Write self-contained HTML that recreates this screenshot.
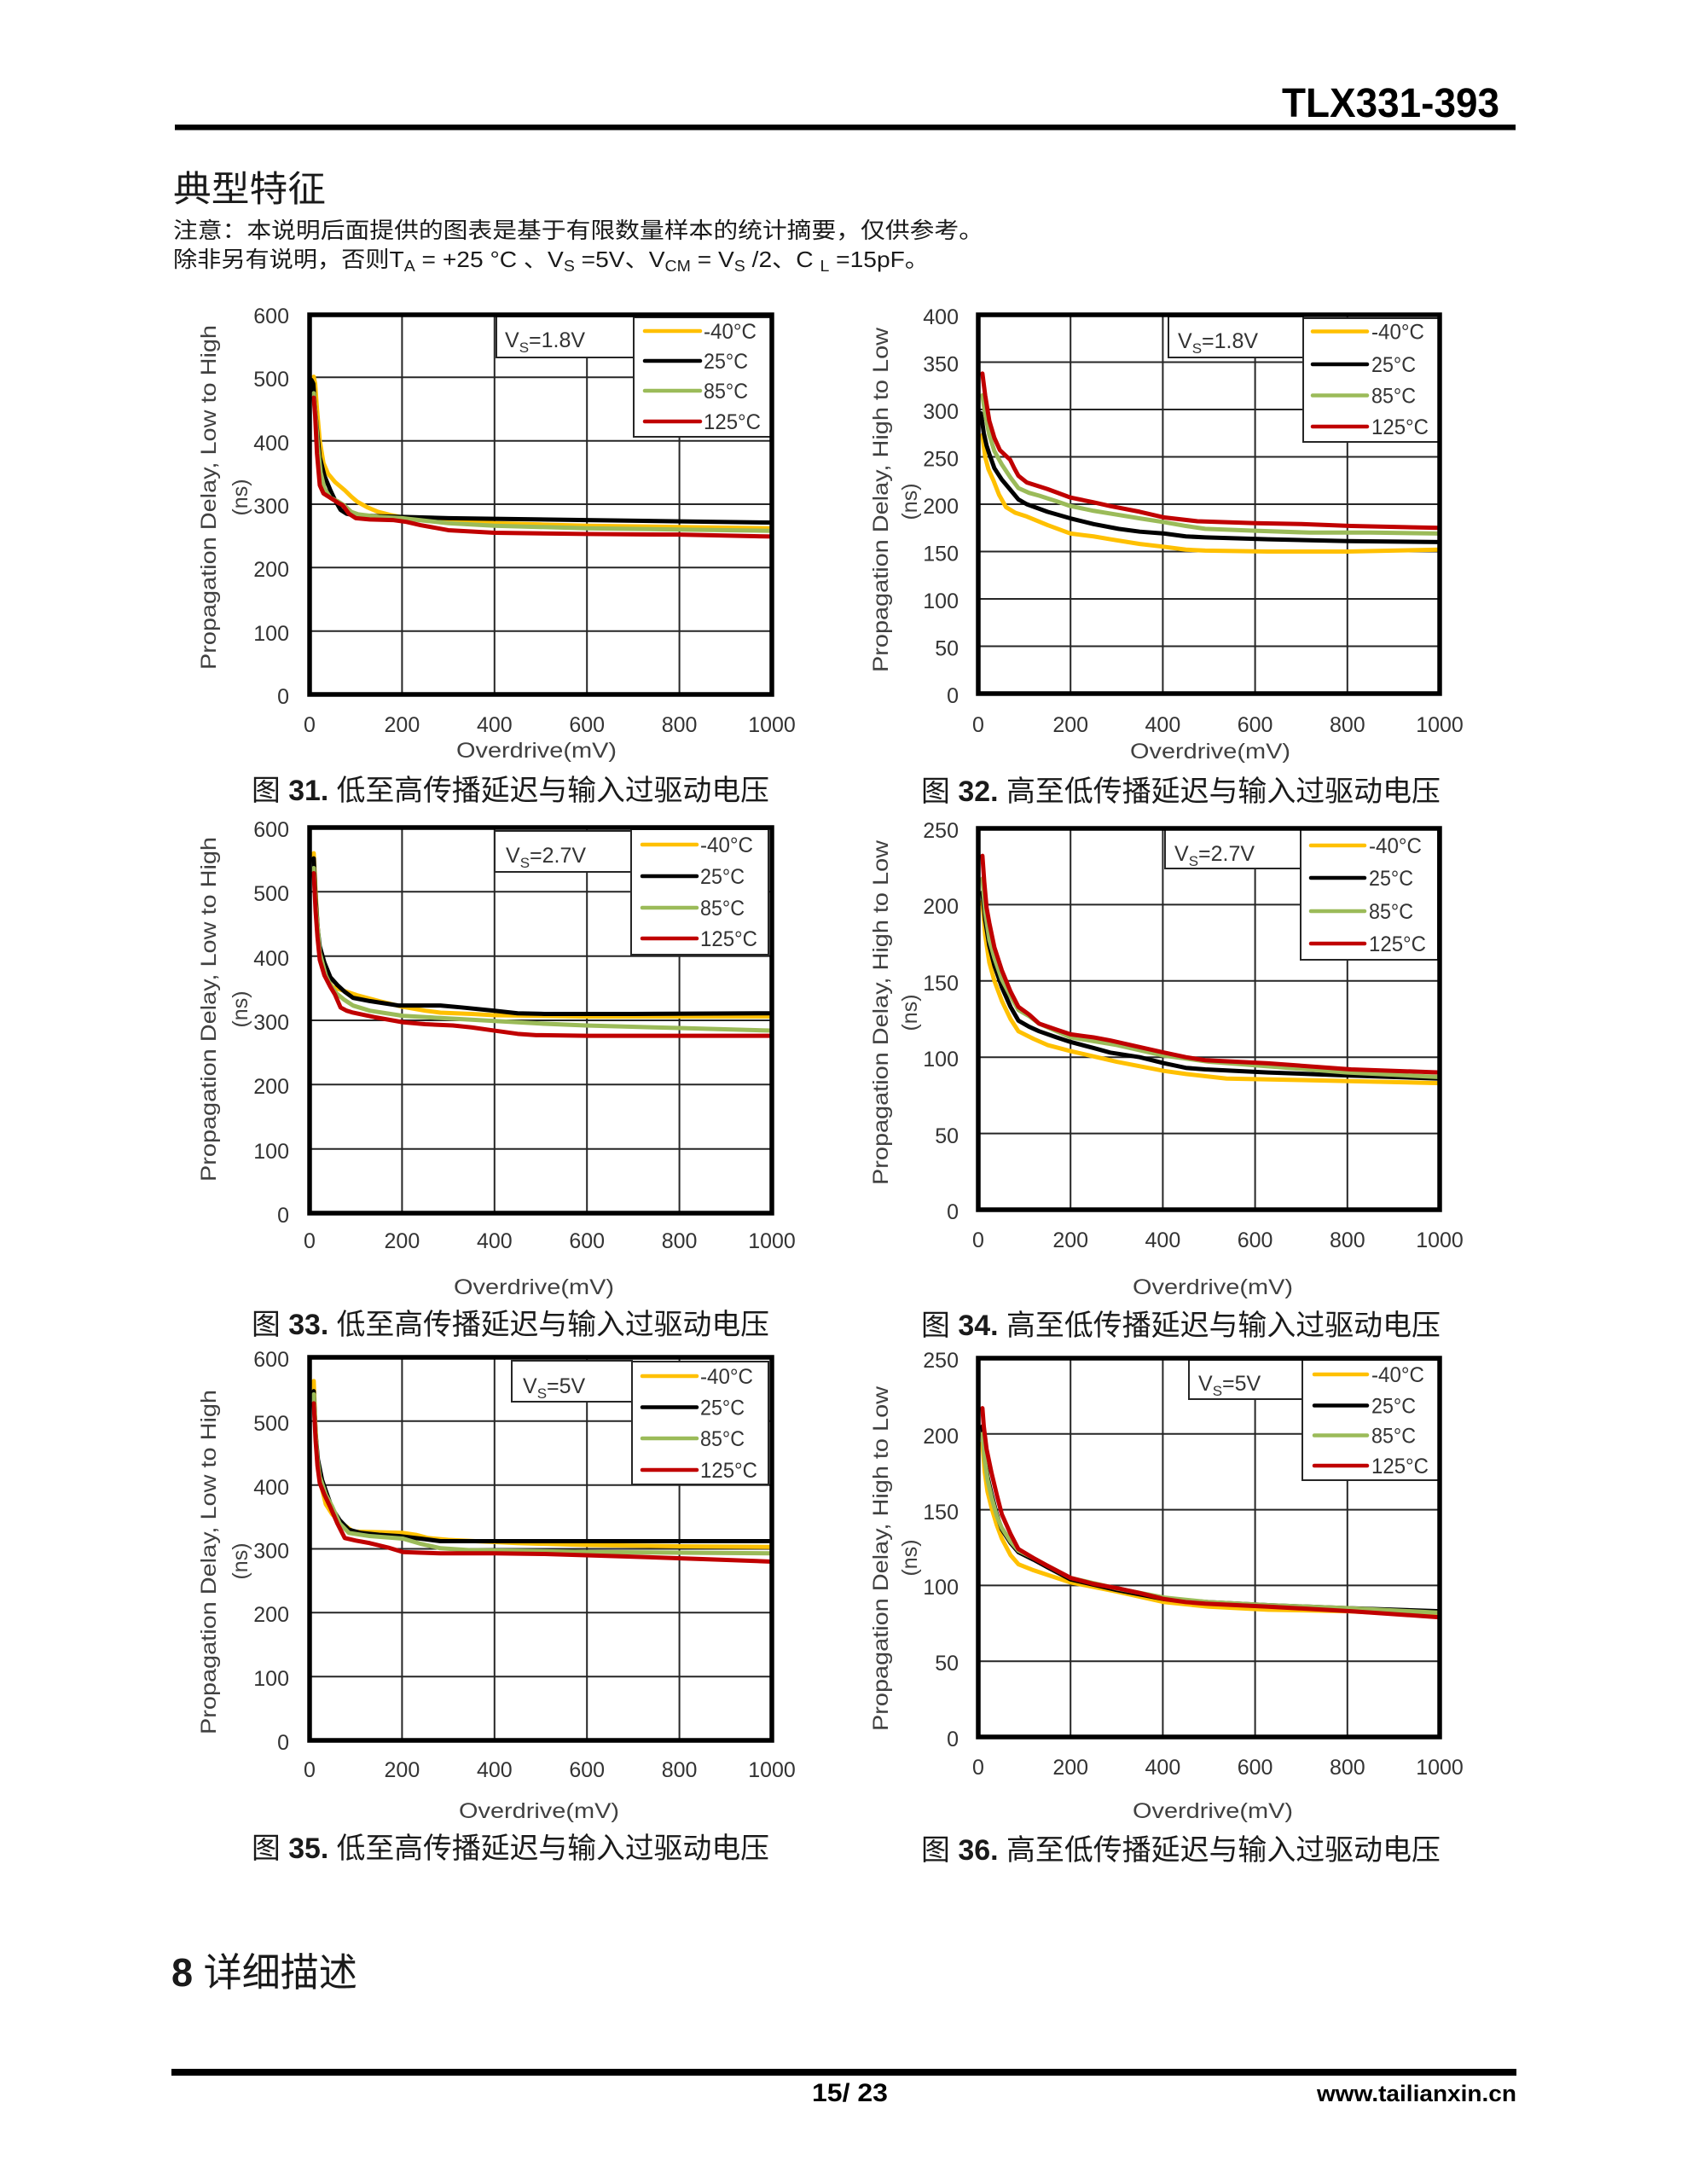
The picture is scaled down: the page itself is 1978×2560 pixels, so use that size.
<!DOCTYPE html>
<html><head><meta charset="utf-8"><style>
html,body{margin:0;padding:0;background:#fff}
svg{display:block}
</style></head><body>
<svg width="1978" height="2560" viewBox="0 0 1978 2560" xmlns="http://www.w3.org/2000/svg">
<style>
.g{stroke:#262626;stroke-width:2;fill:none}
.fr{stroke:#000;stroke-width:5.5;fill:none}
.bx{fill:#fff;stroke:#262626;stroke-width:2}
.t{font-family:"Liberation Sans","DejaVu Sans",sans-serif;font-size:25px;fill:#333}
.ti{font-family:"Liberation Sans","DejaVu Sans",sans-serif;font-size:25px;fill:#404040}
.cj{font-family:"Liberation Sans","Noto Sans CJK SC",sans-serif;fill:#1a1a1a}
.c{fill:none;stroke-width:5;stroke-linejoin:round;stroke-linecap:round;vector-effect:non-scaling-stroke}
.ll{stroke-width:4.5;stroke-linecap:round}
.y{stroke:#FFC000}.k{stroke:#000}.gr{stroke:#9BBB59}.r{stroke:#C00000}
</style>
<rect width="1978" height="2560" fill="#fff"/>

<!-- Header -->
<text x="1503" y="137" font-family="Liberation Sans, sans-serif" font-weight="bold" font-size="48" textLength="255" lengthAdjust="spacingAndGlyphs" fill="#000">TLX331-393</text>
<rect x="205" y="146" width="1572" height="6.5" fill="#000"/>
<text class="cj" x="203" y="236" font-size="42" textLength="179" lengthAdjust="spacingAndGlyphs">典型特征</text>
<text class="cj" x="203" y="279" font-size="26" textLength="950" lengthAdjust="spacingAndGlyphs">注意：本说明后面提供的图表是基于有限数量样本的统计摘要，仅供参考。</text>
<text class="cj" x="203" y="313" font-size="26" textLength="886" lengthAdjust="spacingAndGlyphs">除非另有说明，否则T<tspan font-size="18" dy="5">A</tspan><tspan dy="-5"> = +25 °C 、V</tspan><tspan font-size="18" dy="5">S</tspan><tspan dy="-5"> =5V、V</tspan><tspan font-size="18" dy="5">CM</tspan><tspan dy="-5"> = V</tspan><tspan font-size="18" dy="5">S</tspan><tspan dy="-5"> /2、C </tspan><tspan font-size="18" dy="5">L</tspan><tspan dy="-5"> =15pF。</tspan></text>

<!-- ================= Chart 31 ================= -->
<path class="g" d="M471.4 369V814M579.8 369V814M688.2 369V814M796.6 369V814M363 739.7H905M363 665.3H905M363 591H905M363 516.7H905M363 442.3H905"/>
<rect class="bx" x="582" y="371" width="161" height="48"/>
<rect class="bx" x="743" y="372" width="162" height="140"/>
<text class="t" x="592" y="407">V<tspan font-size="17" dy="6">S</tspan><tspan dy="-6">=1.8V</tspan></text>
<line class="ll y" x1="756" y1="388" x2="821" y2="388"/>
<line class="ll k" x1="756" y1="423" x2="821" y2="423"/>
<line class="ll gr" x1="756" y1="458" x2="821" y2="458"/>
<line class="ll r" x1="756" y1="494" x2="821" y2="494"/>
<text class="t" x="825" y="397" textLength="62" lengthAdjust="spacingAndGlyphs">-40°C</text>
<text class="t" x="825" y="432" textLength="52" lengthAdjust="spacingAndGlyphs">25°C</text>
<text class="t" x="825" y="467" textLength="52" lengthAdjust="spacingAndGlyphs">85°C</text>
<text class="t" x="825" y="503" textLength="67" lengthAdjust="spacingAndGlyphs">125°C</text>
<g transform="translate(363,814) scale(0.542,-0.74333)">
<polyline class="c y" points="9,501 12,490 16,450 22,400 30,365 40,348 55,335 76,322 90,312 103,304 125,295 148,288 175,283 202,279 250,276 300,273 400,270 500,268 600,266 800,264 1000,262"/>
<polyline class="c k" points="4,496 8,490 12,450 17,410 22,374 32,345 45,322 56,305 67,291 80,285 94,283 150,281 200,280 300,278 400,277 600,275 800,273 1000,271"/>
<polyline class="c gr" points="9,475 13,440 18,390 24,350 32,325 45,310 60,305 75,298 90,288 105,284 150,280 200,278 250,274 300,270 400,266 600,262 800,260 1000,258"/>
<polyline class="c r" points="9,468 12,440 16,380 22,330 30,317 45,310 62,302 72,298 85,285 100,278 130,276 180,275 210,272 240,267 300,259 400,255 600,253 800,252 1000,249"/>
</g>
<rect class="fr" x="363" y="369" width="542" height="445"/>
<g class="t" text-anchor="end">
<text x="339" y="379">600</text><text x="339" y="453">500</text><text x="339" y="528">400</text><text x="339" y="602">300</text><text x="339" y="676">200</text><text x="339" y="751">100</text><text x="339" y="825">0</text>
</g>
<g class="t" text-anchor="middle">
<text x="363" y="858">0</text><text x="471.4" y="858">200</text><text x="579.8" y="858">400</text><text x="688.2" y="858">600</text><text x="796.6" y="858">800</text><text x="905" y="858">1000</text>
</g>
<text class="ti" x="629" y="888" text-anchor="middle" font-size="27" textLength="188" lengthAdjust="spacingAndGlyphs">Overdrive(mV)</text>
<text class="ti" transform="translate(253,583) rotate(-90)" text-anchor="middle" textLength="404" lengthAdjust="spacingAndGlyphs">Propagation Delay, Low to High</text>
<text class="ti" transform="translate(290,583) rotate(-90)" text-anchor="middle">(ns)</text>
<text class="cj" x="295" y="938" font-size="34" textLength="607" lengthAdjust="spacingAndGlyphs">图 <tspan font-weight="bold">31.</tspan> 低至高传播延迟与输入过驱动电压</text>

<!-- ================= Chart 32 ================= -->
<path class="g" d="M1255.2 369V813M1363.4 369V813M1471.6 369V813M1579.8 369V813M1147 757.5H1688M1147 702H1688M1147 646.5H1688M1147 591H1688M1147 535.5H1688M1147 480H1688M1147 424.5H1688"/>
<rect class="bx" x="1370" y="371" width="158" height="48"/>
<rect class="bx" x="1528" y="373" width="160" height="145"/>
<text class="t" x="1381" y="408">V<tspan font-size="17" dy="6">S</tspan><tspan dy="-6">=1.8V</tspan></text>
<line class="ll y" x1="1539" y1="388.5" x2="1603" y2="388.5"/>
<line class="ll k" x1="1539" y1="427" x2="1603" y2="427"/>
<line class="ll gr" x1="1539" y1="463.5" x2="1603" y2="463.5"/>
<line class="ll r" x1="1539" y1="500" x2="1603" y2="500"/>
<text class="t" x="1608" y="397.5" textLength="62" lengthAdjust="spacingAndGlyphs">-40°C</text>
<text class="t" x="1608" y="436" textLength="52" lengthAdjust="spacingAndGlyphs">25°C</text>
<text class="t" x="1608" y="472.5" textLength="52" lengthAdjust="spacingAndGlyphs">85°C</text>
<text class="t" x="1608" y="509" textLength="67" lengthAdjust="spacingAndGlyphs">125°C</text>
<g transform="translate(1147,813) scale(0.541,-1.11)">
<polyline class="c y" points="9,273 15,250 22,237 33,225 45,210 60,197 80,191 105,187 150,178 200,169 250,166 286,163 350,158 403,155 450,152 492,151 628,150 800,150 1000,152"/>
<polyline class="c k" points="6,296 12,275 18,262 24,253 35,238 51,226 70,215 87,205 105,200 150,192 200,185 250,179 304,174 350,171 403,169 450,166 492,165 628,163 800,161 1000,160"/>
<polyline class="c gr" points="9,315 15,295 24,273 35,256 51,242 70,228 87,217 110,212 132,209 170,203 200,198 250,193 300,189 350,185 403,181 450,177 492,174 600,172 718,170 850,170 1000,169"/>
<polyline class="c r" points="9,338 15,315 24,288 35,270 47,257 58,252 69,247 78,238 87,230 105,223 150,216 200,207 250,202 286,198 350,192 403,186 475,182 601,180 700,179 808,177 1000,175"/>
</g>
<rect class="fr" x="1147" y="369" width="541" height="444"/>
<g class="t" text-anchor="end">
<text x="1124" y="380">400</text><text x="1124" y="435.5">350</text><text x="1124" y="491">300</text><text x="1124" y="546.5">250</text><text x="1124" y="602">200</text><text x="1124" y="657.5">150</text><text x="1124" y="713">100</text><text x="1124" y="768.5">50</text><text x="1124" y="824">0</text>
</g>
<g class="t" text-anchor="middle">
<text x="1147" y="858">0</text><text x="1255.2" y="858">200</text><text x="1363.4" y="858">400</text><text x="1471.6" y="858">600</text><text x="1579.8" y="858">800</text><text x="1688" y="858">1000</text>
</g>
<text class="ti" x="1419" y="889" text-anchor="middle" font-size="27" textLength="188" lengthAdjust="spacingAndGlyphs">Overdrive(mV)</text>
<text class="ti" transform="translate(1041,586) rotate(-90)" text-anchor="middle" textLength="404" lengthAdjust="spacingAndGlyphs">Propagation Delay, High to Low</text>
<text class="ti" transform="translate(1075,588) rotate(-90)" text-anchor="middle">(ns)</text>
<text class="cj" x="1080" y="939" font-size="34" textLength="609" lengthAdjust="spacingAndGlyphs">图 <tspan font-weight="bold">32.</tspan> 高至低传播延迟与输入过驱动电压</text>

<!-- ================= Chart 33 ================= -->
<path class="g" d="M471.4 970V1422M579.8 970V1422M688.2 970V1422M796.6 970V1422M363 1346.7H905M363 1271.3H905M363 1196H905M363 1120.7H905M363 1045.3H905"/>
<rect class="bx" x="580" y="974" width="160" height="48"/>
<rect class="bx" x="740" y="972" width="161" height="147"/>
<text class="t" x="593" y="1011">V<tspan font-size="17" dy="6">S</tspan><tspan dy="-6">=2.7V</tspan></text>
<line class="ll y" x1="753" y1="990" x2="817" y2="990"/>
<line class="ll k" x1="753" y1="1027" x2="817" y2="1027"/>
<line class="ll gr" x1="753" y1="1064" x2="817" y2="1064"/>
<line class="ll r" x1="753" y1="1100" x2="817" y2="1100"/>
<text class="t" x="821" y="999" textLength="62" lengthAdjust="spacingAndGlyphs">-40°C</text>
<text class="t" x="821" y="1036" textLength="52" lengthAdjust="spacingAndGlyphs">25°C</text>
<text class="t" x="821" y="1073" textLength="52" lengthAdjust="spacingAndGlyphs">85°C</text>
<text class="t" x="821" y="1109" textLength="67" lengthAdjust="spacingAndGlyphs">125°C</text>
<g transform="translate(363,1422) scale(0.542,-0.75333)">
<polyline class="c y" points="9,560 13,500 17,450 22,404 30,380 40,362 49,352 70,347 103,339 150,330 202,321 250,315 283,312 350,310 400,308 597,306 800,306 1000,306"/>
<polyline class="c k" points="9,552 13,490 18,440 22,415 32,390 45,367 60,355 75,345 94,335 130,330 193,323 240,323 283,323 330,320 400,315 450,311 508,310 700,310 1000,311"/>
<polyline class="c gr" points="9,537 13,480 18,440 22,405 35,370 45,355 58,342 75,332 94,323 130,315 202,307 300,303 400,299 500,295 597,292 800,288 1000,284"/>
<polyline class="c r" points="9,529 13,470 17,430 22,394 32,370 45,352 55,340 67,320 80,315 94,312 140,305 202,297 250,294 310,292 350,289 400,284 450,279 490,277 600,276 1000,276"/>
</g>
<rect class="fr" x="363" y="970" width="542" height="452"/>
<g class="t" text-anchor="end">
<text x="339" y="981">600</text><text x="339" y="1056">500</text><text x="339" y="1132">400</text><text x="339" y="1207">300</text><text x="339" y="1282">200</text><text x="339" y="1358">100</text><text x="339" y="1433">0</text>
</g>
<g class="t" text-anchor="middle">
<text x="363" y="1463">0</text><text x="471.4" y="1463">200</text><text x="579.8" y="1463">400</text><text x="688.2" y="1463">600</text><text x="796.6" y="1463">800</text><text x="905" y="1463">1000</text>
</g>
<text class="ti" x="626" y="1517" text-anchor="middle" font-size="27" textLength="188" lengthAdjust="spacingAndGlyphs">Overdrive(mV)</text>
<text class="ti" transform="translate(253,1183) rotate(-90)" text-anchor="middle" textLength="404" lengthAdjust="spacingAndGlyphs">Propagation Delay, Low to High</text>
<text class="ti" transform="translate(290,1183) rotate(-90)" text-anchor="middle">(ns)</text>
<text class="cj" x="295" y="1564" font-size="34" textLength="607" lengthAdjust="spacingAndGlyphs">图 <tspan font-weight="bold">33.</tspan> 低至高传播延迟与输入过驱动电压</text>

<!-- ================= Chart 34 ================= -->
<path class="g" d="M1255.2 971V1418M1363.4 971V1418M1471.6 971V1418M1579.8 971V1418M1147 1328.6H1688M1147 1239.2H1688M1147 1149.8H1688M1147 1060.4H1688"/>
<rect class="bx" x="1366" y="972" width="159" height="46"/>
<rect class="bx" x="1525" y="972" width="161" height="153"/>
<text class="t" x="1377" y="1009">V<tspan font-size="17" dy="6">S</tspan><tspan dy="-6">=2.7V</tspan></text>
<line class="ll y" x1="1537" y1="991" x2="1600" y2="991"/>
<line class="ll k" x1="1537" y1="1029" x2="1600" y2="1029"/>
<line class="ll gr" x1="1537" y1="1068" x2="1600" y2="1068"/>
<line class="ll r" x1="1537" y1="1106" x2="1600" y2="1106"/>
<text class="t" x="1605" y="1000" textLength="62" lengthAdjust="spacingAndGlyphs">-40°C</text>
<text class="t" x="1605" y="1038" textLength="52" lengthAdjust="spacingAndGlyphs">25°C</text>
<text class="t" x="1605" y="1077" textLength="52" lengthAdjust="spacingAndGlyphs">85°C</text>
<text class="t" x="1605" y="1115" textLength="67" lengthAdjust="spacingAndGlyphs">125°C</text>
<g transform="translate(1147,1418) scale(0.541,-1.788)">
<polyline class="c y" points="9,202 15,180 24,162 35,150 51,137 70,125 87,117 120,112 150,108 200,104 300,97 403,91 450,89 538,86 700,85 1000,83"/>
<polyline class="c k" points="9,208 15,190 24,173 35,160 51,146 70,133 87,124 110,120 132,117 170,113 200,110 250,106 286,103 350,100 403,96 450,93 492,92 628,90 800,88 1000,86"/>
<polyline class="c gr" points="9,217 15,195 24,177 35,165 51,151 70,140 87,131 110,127 132,122 170,117 200,113 300,108 403,101 500,97 628,94 800,90 1000,87"/>
<polyline class="c r" points="9,232 13,215 18,198 24,188 35,172 51,157 70,143 87,133 110,128 132,122 170,118 200,115 250,113 286,111 330,108 403,103 450,100 492,98 628,96 808,92 1000,90"/>
</g>
<rect class="fr" x="1147" y="971" width="541" height="447"/>
<g class="t" text-anchor="end">
<text x="1124" y="982">250</text><text x="1124" y="1071">200</text><text x="1124" y="1161">150</text><text x="1124" y="1250">100</text><text x="1124" y="1340">50</text><text x="1124" y="1429">0</text>
</g>
<g class="t" text-anchor="middle">
<text x="1147" y="1462">0</text><text x="1255.2" y="1462">200</text><text x="1363.4" y="1462">400</text><text x="1471.6" y="1462">600</text><text x="1579.8" y="1462">800</text><text x="1688" y="1462">1000</text>
</g>
<text class="ti" x="1422" y="1517" text-anchor="middle" font-size="27" textLength="188" lengthAdjust="spacingAndGlyphs">Overdrive(mV)</text>
<text class="ti" transform="translate(1041,1187) rotate(-90)" text-anchor="middle" textLength="404" lengthAdjust="spacingAndGlyphs">Propagation Delay, High to Low</text>
<text class="ti" transform="translate(1075,1187) rotate(-90)" text-anchor="middle">(ns)</text>
<text class="cj" x="1080" y="1565" font-size="34" textLength="609" lengthAdjust="spacingAndGlyphs">图 <tspan font-weight="bold">34.</tspan> 高至低传播延迟与输入过驱动电压</text>

<!-- ================= Chart 35 ================= -->
<path class="g" d="M471.4 1591V2040M579.8 1591V2040M688.2 1591V2040M796.6 1591V2040M363 1965.2H905M363 1890.3H905M363 1815.5H905M363 1740.7H905M363 1665.8H905"/>
<rect class="bx" x="600" y="1595" width="141" height="48"/>
<rect class="bx" x="741" y="1596" width="160" height="144"/>
<text class="t" x="613" y="1633">V<tspan font-size="17" dy="6">S</tspan><tspan dy="-6">=5V</tspan></text>
<line class="ll y" x1="753" y1="1613" x2="817" y2="1613"/>
<line class="ll k" x1="753" y1="1649.5" x2="817" y2="1649.5"/>
<line class="ll gr" x1="753" y1="1686" x2="817" y2="1686"/>
<line class="ll r" x1="753" y1="1723" x2="817" y2="1723"/>
<text class="t" x="821" y="1622" textLength="62" lengthAdjust="spacingAndGlyphs">-40°C</text>
<text class="t" x="821" y="1658.5" textLength="52" lengthAdjust="spacingAndGlyphs">25°C</text>
<text class="t" x="821" y="1695" textLength="52" lengthAdjust="spacingAndGlyphs">85°C</text>
<text class="t" x="821" y="1732" textLength="67" lengthAdjust="spacingAndGlyphs">125°C</text>
<g transform="translate(363,2040) scale(0.542,-0.74833)">
<polyline class="c y" points="9,563 12,500 16,450 22,408 35,370 49,354 70,340 94,327 150,326 202,325 230,322 256,317 300,314 328,313 450,309 597,306 800,304 1000,303"/>
<polyline class="c k" points="9,547 13,480 18,440 27,408 38,385 49,363 65,345 85,330 110,325 150,322 193,320 240,316 283,312 400,312 600,312 800,312 1000,312"/>
<polyline class="c gr" points="9,542 13,480 17,440 22,413 35,385 49,366 65,340 85,325 130,320 202,316 240,308 283,301 346,298 450,297 597,295 800,294 1000,293"/>
<polyline class="c r" points="9,528 13,470 17,430 22,403 32,385 45,365 60,340 76,317 100,313 130,309 170,302 202,295 240,294 283,293 400,293 508,292 687,288 850,284 1000,280"/>
</g>
<rect class="fr" x="363" y="1591" width="542" height="449"/>
<g class="t" text-anchor="end">
<text x="339" y="1602">600</text><text x="339" y="1677">500</text><text x="339" y="1752">400</text><text x="339" y="1826.5">300</text><text x="339" y="1901">200</text><text x="339" y="1976">100</text><text x="339" y="2051">0</text>
</g>
<g class="t" text-anchor="middle">
<text x="363" y="2083">0</text><text x="471.4" y="2083">200</text><text x="579.8" y="2083">400</text><text x="688.2" y="2083">600</text><text x="796.6" y="2083">800</text><text x="905" y="2083">1000</text>
</g>
<text class="ti" x="632" y="2131" text-anchor="middle" font-size="27" textLength="188" lengthAdjust="spacingAndGlyphs">Overdrive(mV)</text>
<text class="ti" transform="translate(253,1831) rotate(-90)" text-anchor="middle" textLength="404" lengthAdjust="spacingAndGlyphs">Propagation Delay, Low to High</text>
<text class="ti" transform="translate(290,1830) rotate(-90)" text-anchor="middle">(ns)</text>
<text class="cj" x="295" y="2178" font-size="34" textLength="607" lengthAdjust="spacingAndGlyphs">图 <tspan font-weight="bold">35.</tspan> 低至高传播延迟与输入过驱动电压</text>

<!-- ================= Chart 36 ================= -->
<path class="g" d="M1255.2 1592V2036M1363.4 1592V2036M1471.6 1592V2036M1579.8 1592V2036M1147 1947.2H1688M1147 1858.4H1688M1147 1769.6H1688M1147 1680.8H1688"/>
<rect class="bx" x="1394" y="1594" width="133" height="46"/>
<rect class="bx" x="1527" y="1594" width="160" height="141"/>
<text class="t" x="1405" y="1630">V<tspan font-size="17" dy="6">S</tspan><tspan dy="-6">=5V</tspan></text>
<line class="ll y" x1="1541" y1="1611" x2="1603" y2="1611"/>
<line class="ll k" x1="1541" y1="1647.5" x2="1603" y2="1647.5"/>
<line class="ll gr" x1="1541" y1="1682.5" x2="1603" y2="1682.5"/>
<line class="ll r" x1="1541" y1="1718" x2="1603" y2="1718"/>
<text class="t" x="1608" y="1620" textLength="62" lengthAdjust="spacingAndGlyphs">-40°C</text>
<text class="t" x="1608" y="1656.5" textLength="52" lengthAdjust="spacingAndGlyphs">25°C</text>
<text class="t" x="1608" y="1691.5" textLength="52" lengthAdjust="spacingAndGlyphs">85°C</text>
<text class="t" x="1608" y="1727" textLength="67" lengthAdjust="spacingAndGlyphs">125°C</text>
<g transform="translate(1147,2036) scale(0.541,-1.776)">
<polyline class="c y" points="9,194 14,175 20,162 29,151 40,140 51,131 70,120 87,114 120,110 150,107 200,102 300,96 403,89 500,86 628,84 800,83 1000,80"/>
<polyline class="c k" points="9,205 14,185 20,172 29,160 40,147 51,137 70,128 87,122 120,117 150,112 200,104 300,97 403,91 500,89 628,87 800,85 1000,83"/>
<polyline class="c gr" points="9,200 14,183 20,170 29,158 40,146 51,138 70,129 87,123 120,118 150,113 200,105 300,98 403,92 500,89 628,87 800,85 1000,82"/>
<polyline class="c r" points="9,217 12,205 18,190 29,174 40,160 51,147 70,134 87,124 120,118 150,113 200,105 250,101 304,98 350,95 403,91 450,89 492,88 628,86 808,83 1000,79"/>
</g>
<rect class="fr" x="1147" y="1592" width="541" height="444"/>
<g class="t" text-anchor="end">
<text x="1124" y="1603">250</text><text x="1124" y="1692">200</text><text x="1124" y="1781">150</text><text x="1124" y="1869">100</text><text x="1124" y="1958">50</text><text x="1124" y="2047">0</text>
</g>
<g class="t" text-anchor="middle">
<text x="1147" y="2080">0</text><text x="1255.2" y="2080">200</text><text x="1363.4" y="2080">400</text><text x="1471.6" y="2080">600</text><text x="1579.8" y="2080">800</text><text x="1688" y="2080">1000</text>
</g>
<text class="ti" x="1422" y="2131" text-anchor="middle" font-size="27" textLength="188" lengthAdjust="spacingAndGlyphs">Overdrive(mV)</text>
<text class="ti" transform="translate(1041,1827) rotate(-90)" text-anchor="middle" textLength="404" lengthAdjust="spacingAndGlyphs">Propagation Delay, High to Low</text>
<text class="ti" transform="translate(1075,1826) rotate(-90)" text-anchor="middle">(ns)</text>
<text class="cj" x="1080" y="2180" font-size="34" textLength="609" lengthAdjust="spacingAndGlyphs">图 <tspan font-weight="bold">36.</tspan> 高至低传播延迟与输入过驱动电压</text>

<!-- Section + footer -->
<text class="cj" x="201" y="2328" font-size="46" textLength="218" lengthAdjust="spacingAndGlyphs" fill="#000"><tspan font-weight="bold">8</tspan> 详细描述</text>
<rect x="201" y="2425" width="1577" height="8" fill="#000"/>
<text x="952" y="2463" font-family="Liberation Sans, sans-serif" font-weight="bold" font-size="30" textLength="89" lengthAdjust="spacingAndGlyphs" fill="#000">15/ 23</text>
<text x="1544" y="2463" font-family="Liberation Sans, sans-serif" font-weight="bold" font-size="27" textLength="234" lengthAdjust="spacingAndGlyphs" fill="#000">www.tailianxin.cn</text>
</svg>
</body></html>
